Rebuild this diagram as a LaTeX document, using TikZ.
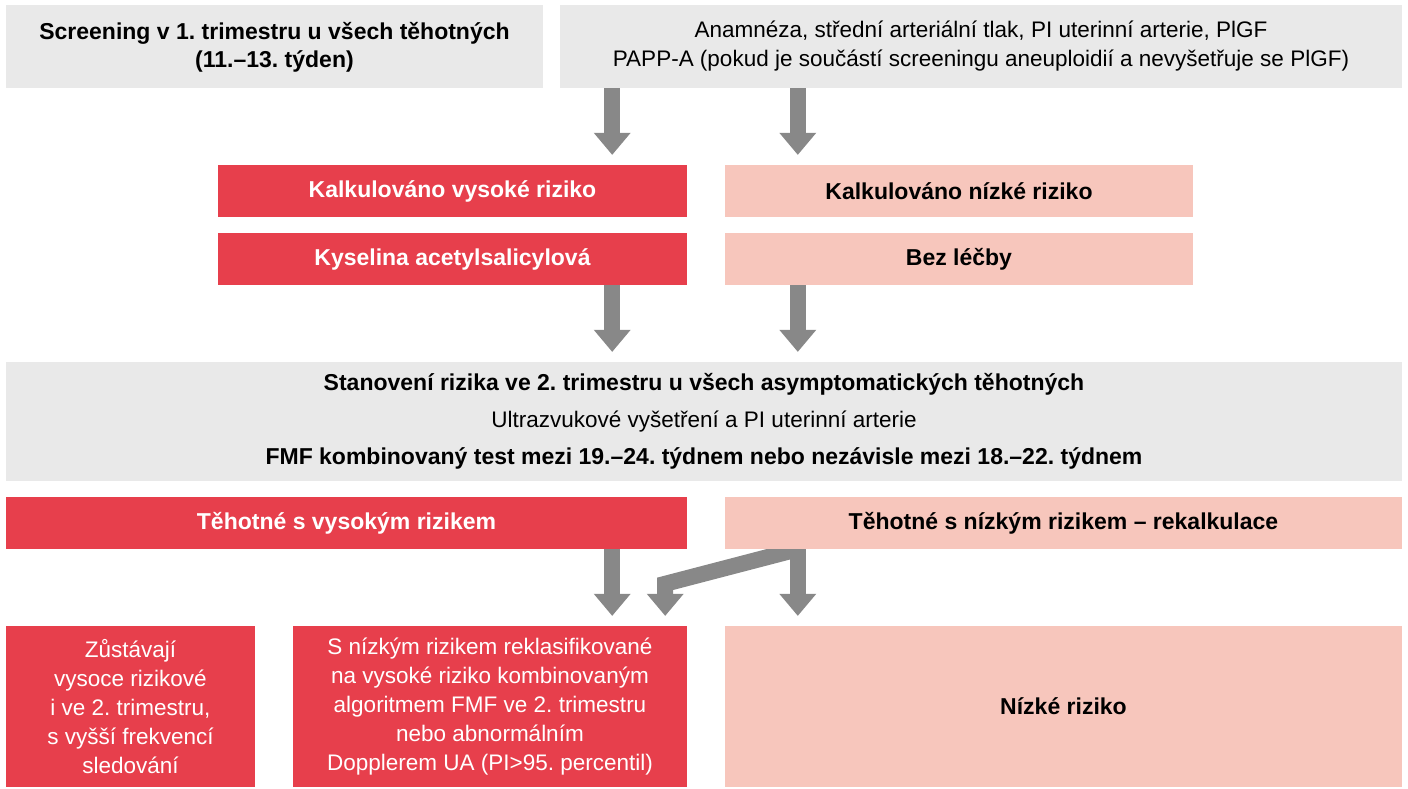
\documentclass[tikz,border=0pt]{standalone}
\usepackage{fontspec}
\setmainfont{Liberation Sans}
\usepackage{xcolor}
\definecolor{riskred}{RGB}{231,63,76}
\definecolor{riskpink}{RGB}{247,198,188}
\definecolor{boxgray}{RGB}{233,233,233}
\definecolor{arrowgray}{RGB}{136,136,136}
\usepackage{tikz}
\usetikzlibrary{arrows.meta, positioning, calc, backgrounds}
\frenchspacing

\tikzset{
  box/.style={inner sep=0pt, align=center, font=\fontsize{22.5}{29}\selectfont},
  bold/.style={font=\fontsize{23}{28}\selectfont\bfseries},
  graybox/.style={box, fill=boxgray},
  redbox/.style={box, fill=riskred, text=white},
  pinkbox/.style={box, fill=riskpink},
  fatarrow/.style={draw=arrowgray, line width=16pt, line join=miter,
    -{Triangle[width=37pt, length=22pt, line width=0pt, fill=arrowgray]}}
}

\begin{document}
\begin{tikzpicture}[x=1pt, y=-1pt]
  \useasboundingbox (0,0) rectangle (1408,789);

  % 1. trimestr
  \node[graybox, bold, minimum width=537pt, minimum height=83pt] (screen) at (274.5,47)
       {Screening v 1. trimestru u všech těhotných\\(11.–13. týden)};
  \node[graybox, minimum width=842pt, minimum height=83pt] (params) at (981,46.5)
       {Anamnéza, střední arteriální tlak, PI uterinní arterie, PlGF\\
        PAPP-A (pokud je součástí screeningu aneuploidií a nevyšetřuje se PlGF)};

  % Kalkulace
  \node[redbox, bold, minimum width=469pt, minimum height=52pt] (calcHi) at (452.5,191)
       {Kalkulováno vysoké riziko};
  \node[pinkbox, bold, minimum width=468pt, minimum height=52pt] (calcLo) at (959,191)
       {Kalkulováno nízké riziko};

  % Lecba
  \node[redbox, bold, minimum width=469pt, minimum height=52pt] (asa) at (452.5,259)
       {Kyselina acetylsalicylová};
  \node[pinkbox, bold, minimum width=468pt, minimum height=52pt] (noTreat) at (959,259)
       {Bez léčby};

  % 2. trimestr
  \node[graybox, minimum width=1396pt, minimum height=119pt] (second) at (704,421.5)
       {\fontsize{23}{28}\selectfont\bfseries
        Stanovení rizika ve 2. trimestru u všech asymptomatických těhotných\\[8pt]
        \fontsize{22.5}{28}\selectfont\mdseries Ultrazvukové vyšetření a PI uterinní arterie\\[8pt]
        \fontsize{23}{28}\selectfont\bfseries
        FMF kombinovaný test mezi 19.–24. týdnem nebo nezávisle mezi 18.–22. týdnem};

  % Skupiny
  \node[redbox, bold, minimum width=681pt, minimum height=52pt] (grpHi) at (346.5,523)
       {Těhotné s vysokým rizikem};
  \node[pinkbox, bold, minimum width=677pt, minimum height=52pt] (grpLo) at (1063.5,523)
       {Těhotné s nízkým rizikem – rekalkulace};

  % Vysledek
  \node[redbox, minimum width=249pt, minimum height=161pt] (stayHi) at (130.5,706.5)
       {Zůstávají\\vysoce rizikové\\i ve 2. trimestru,\\s vyšší frekvencí\\sledování};
  \node[redbox, minimum width=394pt, minimum height=161pt] (reclass) at (490,706.5)
       {S nízkým rizikem reklasifikované\\na vysoké riziko kombinovaným\\
        algoritmem FMF ve 2. trimestru\\nebo abnormálním\\Dopplerem UA (PI>95. percentil)};
  \node[pinkbox, bold, minimum width=677pt, minimum height=161pt] (lowRisk) at (1063.5,706.5)
       {Nízké riziko};

  % Sipky
  \begin{scope}[on background layer]
    \draw[fatarrow] ($(calcHi.north east |- params.south)+(-75,0)$)
         -- ($(calcHi.north east)+(-75,-10)$);
    \draw[fatarrow] ($(calcLo.north west |- params.south)+(73,0)$)
         -- ($(calcLo.north west)+(73,-10)$);
    \draw[fatarrow] ($(asa.south east)+(-75,0)$)
         -- ($(asa.south east |- second.north)+(-75,-10)$);
    \draw[fatarrow] ($(noTreat.south west)+(73,0)$)
         -- ($(noTreat.south west |- second.north)+(73,-10)$);
    \draw[fatarrow] ($(grpHi.south east)+(-75,0)$)
         -- ($(grpHi.south east |- reclass.north)+(-75,-10)$);
    \draw[fatarrow] ($(grpLo.south west)+(73,0)$)
         -- ($(reclass.north east)+(-22,-42)$)
         -- ($(reclass.north east)+(-22,-10)$);
    \draw[fatarrow] ($(grpLo.south west)+(73,0)$)
         -- ($(grpLo.south west |- lowRisk.north)+(73,-10)$);
  \end{scope}
\end{tikzpicture}
\end{document}
